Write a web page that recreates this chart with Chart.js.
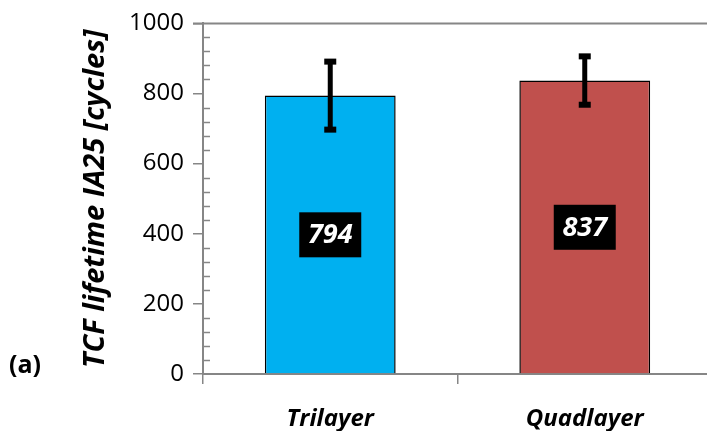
<!DOCTYPE html>
<html>
<head>
<meta charset="utf-8">
<script src="https://cdn.jsdelivr.net/npm/chart.js@4/dist/chart.umd.min.js"></script>
<style>
html,body{margin:0;padding:0;background:#fff;overflow:hidden;}
#wrap{position:relative;width:715px;height:431px;}
</style>
</head>
<body>
<div id="wrap"><canvas id="c" width="715" height="431"></canvas></div>
<script>
const categories = ["Trilayer", "Quadlayer"];
const lifetimes = [794, 837];
const errors = [97, 69];
const barColors = ["#00B0F0", "#C0504D"];
const yTicks = [0, 200, 400, 600, 800, 1000];
const yTitle = "TCF lifetime IA25 [cycles]";
const panelLabel = "(a)";

const AXIS = "#868686";
const FONT = "'Open Sans', sans-serif";

const extras = {
  id: "extras",
  afterDatasetsDraw(chart) {
    const ctx = chart.ctx;
    const y = chart.scales.y;
    const area = chart.chartArea;
    ctx.save();
    ctx.strokeStyle = AXIS; ctx.lineWidth = 2;
    ctx.beginPath(); ctx.moveTo(area.left - 10, y.getPixelForValue(1000)); ctx.lineTo(area.right, y.getPixelForValue(1000)); ctx.stroke();
    ctx.lineWidth = 1.5;
    for (let v = 0; v <= 1000; v += 40) {
      if (v % 200 === 0) continue;
      const py = Math.round(y.getPixelForValue(v)) + 0.5;
      ctx.beginPath(); ctx.moveTo(area.left, py); ctx.lineTo(area.left + 7, py); ctx.stroke();
    }
    const meta = chart.getDatasetMeta(0);
    meta.data.forEach((bar, i) => {
      const cx = bar.x;
      const top = y.getPixelForValue(lifetimes[i] + errors[i]);
      const bot = y.getPixelForValue(lifetimes[i] - errors[i]);
      ctx.strokeStyle = "#000"; ctx.lineWidth = 5;
      ctx.beginPath(); ctx.moveTo(cx, top); ctx.lineTo(cx, bot); ctx.stroke();
      ctx.fillStyle = "#000";
      ctx.fillRect(cx - 6, top - 3, 12, 6);
      ctx.fillRect(cx - 6, bot - 3, 12, 6);
      const my = y.getPixelForValue(lifetimes[i] / 2);
      ctx.fillRect(cx - 31, my - 22.5, 62, 45);
      ctx.fillStyle = "#fff";
      ctx.font = "italic bold 27px " + FONT;
      ctx.textAlign = "center"; ctx.textBaseline = "middle";
      ctx.fillText(String(lifetimes[i]), cx, my + 1);
    });
    ctx.fillStyle = "#000";
    ctx.font = "bold 25px " + FONT;
    ctx.textAlign = "left"; ctx.textBaseline = "middle";
    ctx.fillText(panelLabel, 9, 366);
    ctx.restore();
  }
};

new Chart(document.getElementById("c"), {
  type: "bar",
  data: {
    labels: categories,
    datasets: [{
      data: lifetimes,
      backgroundColor: barColors,
      borderColor: "#000",
      borderWidth: 1.5,
      barPercentage: 0.514,
      categoryPercentage: 1.0
    }]
  },
  options: {
    responsive: false,
    animation: false,
    layout: { padding: { left: 78, top: 22, right: 3, bottom: 0 } },
    plugins: { legend: { display: false }, tooltip: { enabled: false } },
    scales: {
      x: {
        offset: true,
        grid: { offset: true, drawOnChartArea: false, color: AXIS, tickLength: 10, lineWidth: 1.5 },
        border: { color: AXIS, width: 2 },
        ticks: { color: "#000", font: { family: FONT, size: 24, weight: "bold", style: "italic" }, padding: 21 },
        afterFit(s) { s.height = 57; }
      },
      y: {
        min: 0, max: 1000,
        afterBuildTicks(s) { s.ticks = yTicks.map(v => ({ value: v })); },
        grid: { drawOnChartArea: false, color: AXIS, tickLength: 10, lineWidth: 1.5 },
        border: { color: AXIS, width: 2 },
        ticks: { color: "#000", font: { family: FONT, size: 24 }, padding: 9, callback: v => String(v) },
        title: { display: true, text: yTitle, color: "#000", font: { family: FONT, size: 29, weight: "bold", style: "italic" }, padding: 0 },
        afterFit(s) { s.width = 125; }
      }
    }
  },
  plugins: [extras]
});
</script>
</body>
</html>
